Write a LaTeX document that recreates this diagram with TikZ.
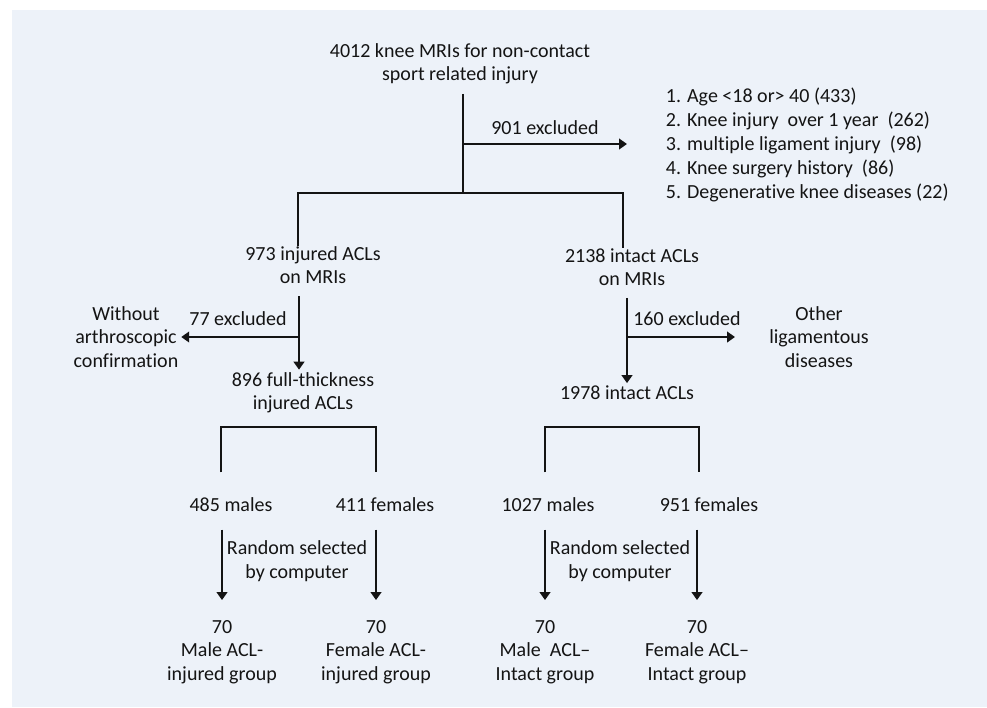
\documentclass[tikz,border=0pt]{standalone}
\usepackage{fontspec}
\setmainfont[Ligatures={TeX,NoCommon}]{Carlito}
\usetikzlibrary{arrows.meta}
\definecolor{panel}{RGB}{237,242,249}
\definecolor{ink}{RGB}{20,20,20}

\begin{document}
\begin{tikzpicture}[
    x=0.75pt, y=-0.75pt,
    every node/.style = {align=center, text=ink, inner sep=2pt, font=\fontsize{15}{17.6}\selectfont},
    link/.style = {draw=ink, line width=2.2pt},
    arr/.style = {link, -{Triangle[length=6pt, width=8pt]}}
    ]
    \useasboundingbox (0,0) rectangle (987,707);
    \fill[panel] (12,10) rectangle (987,707);

    % texts
    \node (top) at (460,64) {4012 knee MRIs for non-contact\\sport related injury};
    \node[anchor=west, align=left, font=\fontsize{15}{18}\selectfont] (reasons) at (663,145)
        {1. Age <18 or> 40 (433)\\2. Knee injury~ over 1 year~ (262)\\3. multiple ligament injury~ (98)\\4. Knee surgery history~ (86)\\5. Degenerative knee diseases (22)};
    \node (inj) at (313,265) {973 injured ACLs\\on MRIs};
    \node (int) at (632,267) {2138 intact ACLs\\on MRIs};
    \node (noarth) at (126,337) {Without\\arthroscopic\\confirmation};
    \node (other) at (819,337) {Other\\ligamentous\\diseases};
    \node (full) at (303,393) {896 full-thickness\\injured ACLs};
    \node (intact) at (627,393) {1978 intact ACLs};
    \node (m1) at (231,505) {485 males};
    \node (f1) at (385,505) {411 females};
    \node (m2) at (548,505) {1027 males};
    \node (f2) at (709,505) {951 females};
    \node (g1) at (222,652) {70\\Male ACL-\\injured group};
    \node (g2) at (376,652) {70\\Female ACL-\\injured group};
    \node (g3) at (545,652) {70\\Male~ ACL--\\Intact group};
    \node (g4) at (697,652) {70\\Female ACL--\\Intact group};

    % labels
    \node (cut1) at (545,128) {901 excluded};
    \node (cut2) at (238,319) {77 excluded};
    \node (cut3) at (687,319) {160 excluded};
    \node (rand1) at (297,561) {Random selected\\by computer};
    \node (rand2) at (620,561) {Random selected\\by computer};

    % junctions
    \coordinate (split) at (463,193);
    \coordinate (out1) at (627,144);
    \coordinate (bl) at (298,193);
    \coordinate (br) at (623,193);
    \coordinate (k1) at (299,337);
    \coordinate (k2) at (627,337);
    \coordinate (out2) at (735,337);
    \coordinate (b1) at (221,427);
    \coordinate (b2) at (376,427);
    \coordinate (b3) at (545,427);
    \coordinate (b4) at (699,427);

    % connectors
    \draw[link, shorten <=5pt] (top.south -| split) -- (split);
    \draw[arr] (split |- out1) -- (out1);
    \draw[link, shorten <=-2pt, shorten >=-2pt] (inj.north -| bl) -- (bl) -- (br) -- (int.north -| br);
    \draw[arr, shorten <=7pt] (inj.south -| k1) -- (full.north -| k1);
    \draw[arr] (k1) -- (noarth.east);
    \draw[arr, shorten <=7pt] (int.south -| k2) -- (intact.north -| k2);
    \draw[arr] (k2) -- (out2);
    \draw[link, shorten <=17pt, shorten >=17pt] (m1.north -| b1) -- (b1) -- (b2) -- (f1.north -| b2);
    \draw[link, shorten <=17pt, shorten >=17pt] (m2.north -| b3) -- (b3) -- (b4) -- (f2.north -| b4);
    \draw[arr, shorten <=11pt, shorten >=13pt] (m1.south -| g1) -- (g1.north);
    \draw[arr, shorten <=11pt, shorten >=13pt] (f1.south -| g2) -- (g2.north);
    \draw[arr, shorten <=11pt, shorten >=13pt] (m2.south -| g3) -- (g3.north);
    \draw[arr, shorten <=11pt, shorten >=13pt] (f2.south -| g4) -- (g4.north);
\end{tikzpicture}
\end{document}
